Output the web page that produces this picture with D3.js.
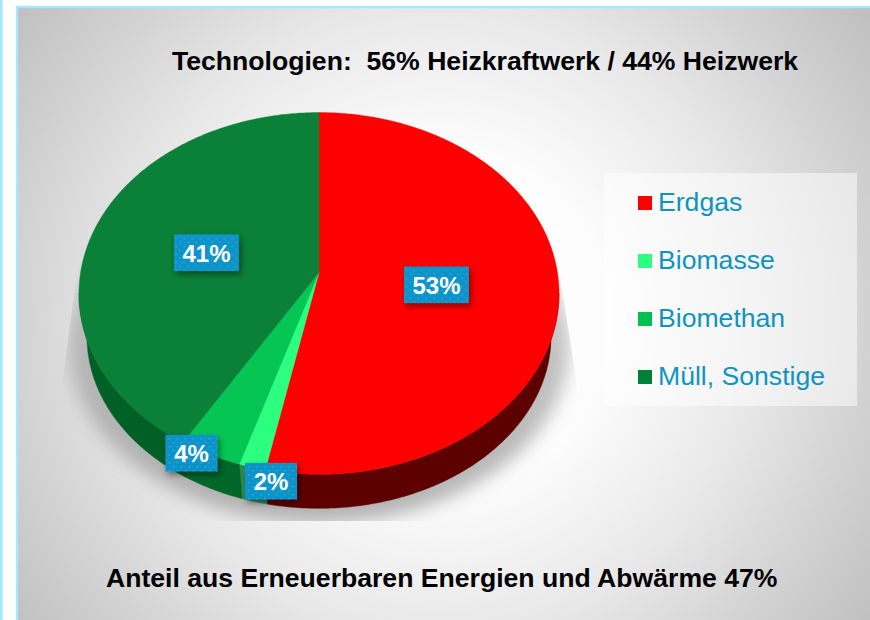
<!DOCTYPE html>
<html>
<head>
<meta charset="utf-8">
<script src="https://cdn.jsdelivr.net/npm/d3@7/dist/d3.min.js"></script>
<style>
html,body{margin:0;padding:0;background:#fff;overflow:hidden}
svg{display:block}
text{font-family:"Liberation Sans",Arial,sans-serif;white-space:pre}
</style>
</head>
<body>
<div id="chart"></div>
<script>
const categories = ["Erdgas", "Biomasse", "Biomethan", "Müll, Sonstige"];
const seriesValues = [53.2, 1.6, 3.8, 41.4];
const sliceColors = ["#ff0000", "#2cff80", "#05c655", "#0a8038"];
const legendColors = ["#ff0000", "#2cff80", "#00c050", "#008038"];
const wallColors = ["#5c0000", "#2f8a55", "#00662a", "#006026"];
const titleText = "Technologien:  56% Heizkraftwerk / 44% Heizwerk";
const footerText = "Anteil aus Erneuerbaren Energien und Abwärme 47%";
// layout for the data labels: radial factor and vertical shift per slice
const labelRadial = [0.492, 0.804, 1.30, 0.4864];
const labelShift = [-17.4, 47, -54.8, -17];

const W = 870, H = 620;
const cx = 319, cy = 293, rx = 240, ry = 181;
// perspective of the disc: the pie centre appears above the ellipse centre
const apexY = 272.5, persp = 0.1157, projA = 238.4, projB = 178.5;
// lower rim of the wall
const baseCy = 336, baseRx = 232, baseRy = 172;

const svg = d3.select("#chart").append("svg").attr("width", W).attr("height", H);
const defs = svg.append("defs");

const bg = defs.append("radialGradient").attr("id", "bg")
  .attr("gradientUnits", "userSpaceOnUse")
  .attr("cx", 440).attr("cy", 320).attr("r", 570);
[[0, "#ffffff"], [0.3, "#fcfcfc"], [0.55, "#e8e8e8"], [0.75, "#d2d2d2"], [1, "#b8b8b8"]].forEach(s =>
  bg.append("stop").attr("offset", s[0]).attr("stop-color", s[1]));

const blur = defs.append("filter").attr("id", "blur").attr("x", "-20%").attr("y", "-20%").attr("width", "140%").attr("height", "140%");
blur.append("feGaussianBlur").attr("stdDeviation", 9);
defs.append("clipPath").attr("id", "shadowClip").append("path")
  .attr("d", d3.line()([[80, 250], [62, 385], [62, 521], [577, 521], [577, 385], [556, 250]]) + "Z");

const shadowFill = defs.append("linearGradient").attr("id", "shadowFill").attr("x1", 0).attr("y1", 0).attr("x2", 0).attr("y2", 1);
shadowFill.append("stop").attr("offset", 0).attr("stop-color", "#9a9a9a").attr("stop-opacity", 0);
shadowFill.append("stop").attr("offset", 0.35).attr("stop-color", "#9a9a9a").attr("stop-opacity", 0.55);
shadowFill.append("stop").attr("offset", 1).attr("stop-color", "#a0a0a0").attr("stop-opacity", 0.8);

const dots = defs.append("pattern").attr("id", "dots").attr("patternUnits", "userSpaceOnUse").attr("width", 8).attr("height", 8);
dots.append("rect").attr("width", 8).attr("height", 8).attr("fill", "#0e93c8");
dots.append("rect").attr("x", 1).attr("y", 1).attr("width", 1.5).attr("height", 1.5).attr("fill", "#1fb0e8");
dots.append("rect").attr("x", 5).attr("y", 5).attr("width", 1.5).attr("height", 1.5).attr("fill", "#1fb0e8");

const boxShadow = defs.append("filter").attr("id", "boxShadow").attr("x", "-30%").attr("y", "-30%").attr("width", "160%").attr("height", "170%");
boxShadow.append("feDropShadow").attr("dx", 2).attr("dy", 3).attr("stdDeviation", 3).attr("flood-color", "#000").attr("flood-opacity", 0.45);

// frame
svg.append("rect").attr("x", 0).attr("y", 0).attr("width", 2.7).attr("height", H).attr("fill", "#a6e8ff");
svg.append("rect").attr("x", 17).attr("y", 7).attr("width", W).attr("height", H).attr("fill", "url(#bg)").attr("stroke", "#a6e8ff").attr("stroke-width", 2.4);

// soft shadow under the pie
svg.append("g").attr("clip-path", "url(#shadowClip)")
  .append("ellipse").attr("cx", cx).attr("cy", 345).attr("rx", 250).attr("ry", 178)
  .attr("fill", "url(#shadowFill)").attr("filter", "url(#blur)");

const pie = d3.pie().sort(null).value(d => d)(seriesValues);

// angle on the pie -> point on the drawn upper rim
const rim = a => {
  const s = Math.sin(a), c = Math.cos(a), w = 1 + persp * c;
  return [cx + projA * s / w, apexY - projB * c / w];
};
// same angle on the lower rim of the wall
const baseRim = a => {
  const p = rim(a);
  return [cx + (p[0] - cx) * baseRx / rx, baseCy + (p[1] - cy) * baseRy / ry];
};
const angleSteps = (a0, a1) => d3.range(a0, a1, 0.01).concat([a1]);
const line = d3.line();

// side wall, only where the rim faces the viewer
const wallFrom = Math.acos(-persp), wallTo = 2 * Math.PI - wallFrom;
const wall = svg.append("g");
pie.forEach((s, i) => {
  const a0 = Math.max(s.startAngle, wallFrom), a1 = Math.min(s.endAngle, wallTo);
  if (a1 <= a0) return;
  const angles = angleSteps(a0, a1);
  const outline = angles.map(rim).concat(angles.slice().reverse().map(baseRim));
  wall.append("path").attr("d", line(outline) + "Z").attr("fill", wallColors[i]).attr("stroke", wallColors[i]).attr("stroke-width", 0.5);
});

// top face
svg.append("g").selectAll("path").data(pie).join("path")
  .attr("d", d => line([[cx, apexY]].concat(angleSteps(d.startAngle, d.endAngle).map(rim))) + "Z")
  .attr("fill", (d, i) => sliceColors[i])
  .attr("stroke", (d, i) => sliceColors[i]).attr("stroke-width", 0.4);

// legend
svg.append("rect").attr("x", 604).attr("y", 173).attr("width", 253).attr("height", 233).attr("fill", "#ffffff").attr("fill-opacity", 0.5);
const legendY = d3.scalePoint().domain(categories).range([203, 377]);
const legend = svg.append("g").selectAll("g").data(categories).join("g");
legend.append("rect").attr("x", 638).attr("y", d => legendY(d) - 7).attr("width", 14).attr("height", 14).attr("fill", (d, i) => legendColors[i]);
legend.append("text").attr("x", 658).attr("y", d => legendY(d) + 7.5).attr("font-size", 26.6).attr("fill", "#0f94c0").text(d => d);

// data labels
const labels = svg.append("g").selectAll("g").data(pie).join("g")
  .attr("transform", (d, i) => {
    const m = (d.startAngle + d.endAngle) / 2;
    return `translate(${cx + rx * labelRadial[i] * Math.sin(m)},${cy - ry * labelRadial[i] * Math.cos(m) + labelShift[i]})`;
  });
labels.append("rect")
  .attr("x", d => d.value >= 10 ? -32.5 : -26).attr("y", -18)
  .attr("width", d => d.value >= 10 ? 65 : 52).attr("height", 36.5)
  .attr("fill", "url(#dots)").attr("filter", "url(#boxShadow)");
labels.append("text").attr("text-anchor", "middle").attr("y", 9).attr("font-size", 24).attr("font-weight", 700).attr("fill", "#fff").text(d => Math.round(d.value) + "%");

// titles
svg.append("text").attr("x", 172).attr("y", 70).attr("font-size", 26.6).attr("font-weight", 700).attr("fill", "#000").text(titleText);
svg.append("text").attr("x", 106).attr("y", 587).attr("font-size", 26.6).attr("font-weight", 700).attr("fill", "#000").text(footerText);
</script>
</body>
</html>
